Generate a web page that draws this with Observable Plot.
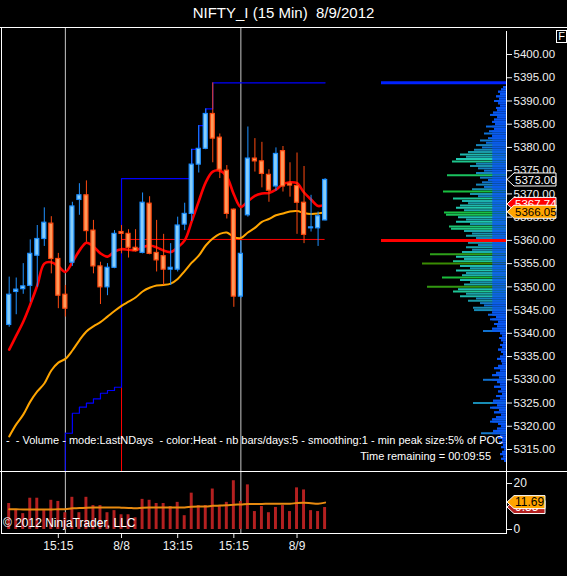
<!DOCTYPE html>
<html><head><meta charset="utf-8">
<script src="https://cdn.jsdelivr.net/npm/d3@7"></script>
<script src="https://cdn.jsdelivr.net/npm/@observablehq/plot@0.6"></script>
<style>
html,body{margin:0;padding:0;background:#000;}
body{width:567px;height:576px;overflow:hidden;position:relative;font-family:"Liberation Sans",Arial,sans-serif;color:#fff;}
.abs{position:absolute;}
.line{position:absolute;background:#fff;}
svg{position:absolute;left:0;}
</style></head><body>
<script>
// ---- candles (15 min bars), index 0..45
const opens  = [5341.8,5348.9,5349.5,5350.2,5356.7,5360.3,5363.6,5356.0,5348.3,5355.2,5368.7,5369.7,5362.1,5354.4,5349.9,5354.1,5361.8,5361.4,5358.4,5357.3,5367.9,5357.3,5356.6,5353.7,5353.7,5363.4,5365.7,5376.3,5379.7,5387.2,5382.1,5375.0,5366.6,5347.9,5365.4,5377.6,5377.0,5374.1,5371.6,5379.2,5372.2,5371.7,5368.1,5362.6,5362.6,5364.3];
const highs  = [5352.1,5351.9,5355.0,5360.1,5363.2,5367.0,5365.1,5357.2,5350.3,5368.2,5372.2,5372.8,5364.3,5355.3,5355.0,5362.1,5363.2,5362.3,5362.3,5370.2,5369.4,5364.3,5361.3,5359.3,5365.0,5368.0,5379.6,5384.7,5388.3,5393.9,5382.9,5376.1,5366.8,5359.8,5384.4,5381.9,5381.1,5375.2,5379.9,5380.2,5376.7,5378.8,5375.9,5369.7,5366.1,5373.3];
const lows   = [5341.3,5344.0,5348.4,5346.7,5349.9,5358.7,5352.8,5345.3,5343.5,5354.4,5365.4,5359.6,5352.8,5346.2,5348.1,5353.9,5357.1,5356.2,5357.5,5357.1,5356.9,5353.2,5350.3,5350.3,5353.2,5362.1,5364.1,5374.5,5379.5,5376.7,5373.3,5364.6,5345.6,5347.5,5365.0,5374.7,5371.3,5368.2,5370.6,5370.4,5369.3,5361.3,5359.3,5361.8,5358.7,5364.2];
const closes = [5348.3,5349.4,5350.1,5357.1,5360.3,5363.8,5356.0,5348.1,5345.3,5367.3,5369.7,5362.0,5354.4,5349.9,5354.1,5361.4,5361.4,5358.4,5357.7,5368.1,5357.1,5355.7,5353.7,5354.1,5363.2,5365.7,5376.3,5379.7,5387.2,5381.9,5375.2,5365.7,5347.9,5357.1,5377.6,5377.0,5374.3,5370.7,5378.6,5371.6,5371.8,5368.1,5361.2,5362.8,5365.2,5373.0];
// moving averages
const fastMA = [5336.5,5339.5,5342.5,5346.2,5350.3,5355.0,5355.3,5354.4,5353.2,5355.3,5357.8,5359.5,5358.7,5357.2,5356.5,5357.6,5358.1,5358.0,5357.9,5358.5,5358.9,5358.5,5357.8,5357.5,5358.5,5360.0,5364.1,5368.4,5372.5,5374.8,5375.0,5373.7,5369.9,5367.2,5368.4,5369.6,5370.1,5370.2,5370.9,5372.1,5372.5,5372.3,5370.3,5368.8,5367.4,5367.74];
const slowMA = [5317.8,5320.4,5322.5,5325.3,5327.5,5329.2,5332.0,5333.7,5334.5,5336.3,5338.5,5340.4,5341.5,5342.4,5343.6,5344.8,5345.9,5346.8,5347.7,5349.0,5349.8,5350.3,5350.4,5350.7,5351.7,5353.4,5355.2,5356.7,5358.9,5360.4,5361.4,5361.7,5360.7,5360.5,5361.7,5362.7,5364.0,5364.6,5365.4,5365.8,5366.2,5366.3,5365.9,5365.7,5365.8,5366.05];
// developing level step line (bar index 8..45)
const stepStart = 8;
const stepLevels = [5318.5,5322.8,5324.1,5325.0,5325.9,5327.1,5327.7,5328.4,5373.3,5373.3,5373.3,5373.3,5373.3,5373.3,5373.3,5373.3,5373.3,5373.3,5379.6,5384.7,5388.3,5393.9,5393.9,5393.9,5393.9,5393.9,5393.9,5393.9,5393.9,5393.9,5393.9,5393.9,5393.9,5393.9,5393.9,5393.9,5393.9,5393.9];
const pocLevel = 5360.2, pocStart = 16, pocEnd = 45;
const sessionLines = [8, 33];
// volume panel
const volumes = [11.3,8.4,6.9,13.6,13.6,8.2,12.7,12.2,7.3,14.0,7.3,14.0,10.4,10.4,7.3,8.2,6.4,6.4,5.1,13.1,12.7,11.3,11.3,10.0,11.8,6.0,15.8,10.4,10.4,17.6,10.0,11.8,21.2,12.2,19.4,7.8,10.0,7.3,9.6,10.4,7.8,18.1,17.2,8.2,7.8,9.55];
const volMA = [8.8,8.8,8.7,8.7,8.7,8.7,8.7,8.8,8.8,9.2,9.3,9.5,9.6,9.6,9.6,9.6,9.5,9.4,9.2,9.5,9.6,9.6,9.6,9.6,9.6,9.6,9.9,10.0,10.0,10.3,10.4,10.5,10.8,10.9,11.1,11.1,11.1,11.2,11.2,11.2,11.2,11.5,11.6,11.4,11.2,11.69];
const timeTickIdx = [7, 16, 24, 32, 41];
const timeTickLabels = ["15:15", "8/8", "13:15", "15:15", "8/9"];
const priceTicks = [5315,5320,5325,5330,5335,5340,5345,5350,5355,5360,5365,5370,5375,5380,5385,5390,5395,5400];
const volTicks = [0, 20];
// volume profile (right side), price levels 5393.0 down to 5312.5 every 0.5; POC = 125
const profileTop = 5393.0, profileStep = 0.5;
const profileVol = [3,5,8,6,10,7,12,8,6,10,9,13,16,9,12,14,11,20,12,17,22,14,18,26,20,30,24,32,38,46,40,50,54,30,36,28,22,30,59,26,18,24,30,22,34,63,36,28,53,44,38,46,50,42,62,60,48,40,50,36,57,55,42,34,40,30,125,38,28,40,34,44,76,50,42,53,84,46,36,50,40,44,64,46,36,42,79,48,53,40,46,30,38,26,22,33,32,14,18,10,16,8,12,9,14,23,6,4,7,5,3,6,4,8,5,3,6,9,5,4,8,12,6,10,14,7,23,9,6,12,5,8,4,10,6,13,33,9,16,7,12,5,10,14,16,8,5,9,13,25,6,8,4,7,3,5,2,4,6,3,5,2];
const profileHigh = 5393.9;
</script>
<script>
const W = 567;
const PRICE_TOP = 28, PRICE_H = 443;
const VOL_TOP = 471, VOL_H = 105;
const AXIS_X = 506;
const X = {domain:[0,45], range:[8.7,324.6]};
const Y = {domain:[5315,5400], range:[421,26]};
const pxPerPt = (Y.range[0]-Y.range[1])/(Y.domain[1]-Y.domain[0]);
const priceAtBottom = Y.domain[0] - (PRICE_H - Y.range[0]) / pxPerPt;

const bars = opens.map((o,i)=>({i, o, h:highs[i], l:lows[i], c:closes[i], up: closes[i] >= o}));
const UP_LINE="#1e90ff", UP_FILL="#87cefa", DN_LINE="#ff4a10", DN_FILL="#ff9a5a";
const stepData = stepLevels.map((v,k)=>({i: stepStart+k, v}));
const fastData = fastMA.map((v,i)=>({i,v}));
const slowData = slowMA.map((v,i)=>({i,v}));

const font = "Liberation Sans, Arial, sans-serif";

// ---- profile plot (beneath)
const profile = profileVol.map((v,k)=>({p: profileTop - k*profileStep, v}));
const pocVol = d3.max(profileVol);
const heat = d3.scaleLinear()
  .domain([0, 0.1, 0.2, 0.3, 0.4, 0.5, 0.68])
  .range(["#0030ff","#0055ff","#1478c8","#1a98a8","#20c8b0","#18c040","#3c8a00"])
  .clamp(true);
const nearAxis = 0.11 * pocVol;
const profPlot = Plot.plot({
  width: W, height: PRICE_H, marginTop:0, marginBottom:0, marginLeft:0, marginRight:0,
  style:{background:"transparent", overflow:"visible"},
  x:{domain:[0,pocVol], range:[AXIS_X, 381], axis:null},
  y:{...Y, axis:null},
  marks:[
    Plot.ruleY(profile.filter(d=>d.v<pocVol), {y:"p", x1:0, x2:"v", stroke:d=>heat(d.v/pocVol), strokeWidth:2}),
    Plot.ruleY(profile.filter(d=>d.v<pocVol), {y:"p", x1:0, x2:d=>Math.min(d.v, nearAxis), stroke:"#0a58f0", strokeWidth:2, strokeOpacity:0.85}),
    Plot.ruleY(profile.filter(d=>d.v===pocVol), {y:"p", x1:0, x2:"v", stroke:"#ff0000", strokeWidth:3}),
    Plot.ruleY([profileHigh], {x1:0, x2:pocVol, stroke:"#0022ff", strokeWidth:3})
  ]
});
profPlot.style.top = PRICE_TOP+"px";
document.body.appendChild(profPlot);

// ---- price plot
const pricePlot = Plot.plot({
  width: W, height: PRICE_H, marginTop:0, marginBottom:0, marginLeft:0, marginRight: W-AXIS_X,
  style:{background:"transparent", color:"#f0f0f0", fontFamily:font, fontSize:"11px", overflow:"visible"},
  x:{...X, axis:null},
  y:{...Y, axis:null},
  marks:[
    Plot.ruleX(sessionLines, {stroke:"#c8c8c8", strokeWidth:1}),
    Plot.ruleX([stepData[0]], {x:"i", y1:"v", y2:priceAtBottom, stroke:"#0000ff", strokeWidth:1}),
    Plot.ruleX([{i:pocStart, v: stepLevels[pocStart-stepStart-1]}], {x:"i", y1:"v", y2:priceAtBottom, stroke:"#ff0000", strokeWidth:1}),
    Plot.line(stepData, {x:"i", y:"v", curve:"step-after", stroke:"#0000ff", strokeWidth:1.2}),
    Plot.ruleY([pocLevel], {x1:pocStart, x2:pocEnd, stroke:"#ff0000", strokeWidth:1}),
    Plot.line(slowData, {x:"i", y:"v", curve:"catmull-rom", stroke:"#ffa500", strokeWidth:2}),
    Plot.line(fastData, {x:"i", y:"v", curve:"catmull-rom", stroke:"#ff0000", strokeWidth:2.6}),
    Plot.ruleX(bars, {x:"i", y1:"l", y2:"h", stroke:d=>d.up?UP_LINE:DN_LINE, strokeWidth:1}),
    Plot.rect(bars, {x1:d=>d.i-0.29, x2:d=>d.i+0.29, y1:"o", y2:"c", fill:d=>d.up?UP_FILL:DN_FILL, stroke:d=>d.up?UP_LINE:DN_LINE, strokeWidth:1.2}),
    Plot.axisY({anchor:"right", label:null, ticks:priceTicks, tickFormat:d=>d.toFixed(2), tickSize:5, tickPadding:2, fontSize:11.5})
  ]
});
pricePlot.style.top = PRICE_TOP+"px";
document.body.appendChild(pricePlot);

function marker(svg, yPix, label, fill, stroke, textFill, w, fs){
  const g = d3.select(svg).append("g").attr("text-anchor","start");
  const x0 = AXIS_X + 1;
  g.append("polygon")
    .attr("points", `${x0},${yPix} ${x0+7},${yPix-6.5} ${x0+w},${yPix-6.5} ${x0+w},${yPix+6.5} ${x0+7},${yPix+6.5}`)
    .attr("fill", fill).attr("stroke", stroke).attr("stroke-width", 1);
  g.append("text").attr("x", x0+8).attr("y", yPix).attr("dy","0.36em").attr("text-anchor","start")
    .attr("fill", textFill).attr("font-size", fs).attr("font-family", font).text(label);
}
const yP = pricePlot.scale("y");
marker(pricePlot, yP.apply(closes[closes.length-1]), closes[closes.length-1].toFixed(2), "#000", "#ffffff", "#ffffff", 49, 11.5);
marker(pricePlot, yP.apply(fastMA[fastMA.length-1]), fastMA[fastMA.length-1].toFixed(2), "#ff0000", "#ffffff", "#ffffff", 49, 11.5);
marker(pricePlot, yP.apply(slowMA[slowMA.length-1]), slowMA[slowMA.length-1].toFixed(2), "#ffa500", "#ffffff", "#000000", 49, 11.5);

// ---- volume plot
const volData = volumes.map((v,i)=>({i,v}));
const volMAData = volMA.map((v,i)=>({i,v}));
const volPlot = Plot.plot({
  width: W, height: VOL_H, marginTop:0, marginBottom:43, marginLeft:0, marginRight: W-AXIS_X,
  style:{background:"transparent", color:"#f0f0f0", fontFamily:font, fontSize:"12px", overflow:"visible"},
  x:{...X, axis:null},
  y:{domain:[0,20], range:[58,12], axis:null},
  marks:[
    Plot.ruleX(sessionLines, {stroke:"#c8c8c8", strokeWidth:1}),
    Plot.rect(volData, {x1:d=>d.i-0.21, x2:d=>d.i+0.21, y1:0, y2:"v", fill:"#b42020"}),
    Plot.line(volMAData, {x:"i", y:"v", curve:"catmull-rom", stroke:"#e88a10", strokeWidth:2}),
    Plot.axisY({anchor:"right", label:null, ticks:volTicks, tickSize:5, tickPadding:2, fontSize:12}),
    Plot.axisX({anchor:"bottom", label:null, ticks:timeTickIdx, tickFormat:d=>timeTickLabels[timeTickIdx.indexOf(d)], tickSize:5, tickPadding:3, fontSize:12})
  ]
});
volPlot.style.top = VOL_TOP+"px";
document.body.appendChild(volPlot);
const yV = volPlot.scale("y");
marker(volPlot, yV.apply(volumes[volumes.length-1]), volumes[volumes.length-1].toFixed(2), "#b42020", "#ffffff", "#ffffff", 38, 12);
marker(volPlot, yV.apply(volMA[volMA.length-1]), volMA[volMA.length-1].toFixed(2), "#ffa500", "#ffffff", "#000000", 38, 12);

// ---- frame and texts
function hline(x,y,w){const d=document.createElement("div");d.className="line";Object.assign(d.style,{left:x+"px",top:y+"px",width:w+"px",height:"1px"});document.body.appendChild(d);}
function vline(x,y,h){const d=document.createElement("div");d.className="line";Object.assign(d.style,{left:x+"px",top:y+"px",width:"1px",height:h+"px"});document.body.appendChild(d);}
hline(0,27,W);
vline(1,27,507);
vline(AXIS_X,31,440);
hline(0,VOL_TOP,W);
vline(AXIS_X,VOL_TOP,62);
hline(1,533,AXIS_X);

function text(str, css){const d=document.createElement("div");d.className="abs";d.textContent=str;Object.assign(d.style,{whiteSpace:"pre"},css);document.body.appendChild(d);return d;}
text("NIFTY_I (15 Min)  8/9/2012", {left:"0px", width:W+"px", textAlign:"center", top:"4px", fontSize:"15px"});
text("F", {left:"556px", top:"30px", width:"9px", height:"11px", border:"1px solid #fff", fontSize:"11px", lineHeight:"11px", textAlign:"center"});
text("-  - Volume - mode:LastNDays  - color:Heat - nb bars/days:5 - smoothing:1 - min peak size:5% of POC", {right:(W-503)+"px", top:"434px", fontSize:"11px"});
text("Time remaining = 00:09:55", {right:(W-491)+"px", top:"450px", fontSize:"11px"});
text("© 2012 NinjaTrader, LLC", {left:"3px", top:"516px", fontSize:"12px"});
</script>
</body></html>
